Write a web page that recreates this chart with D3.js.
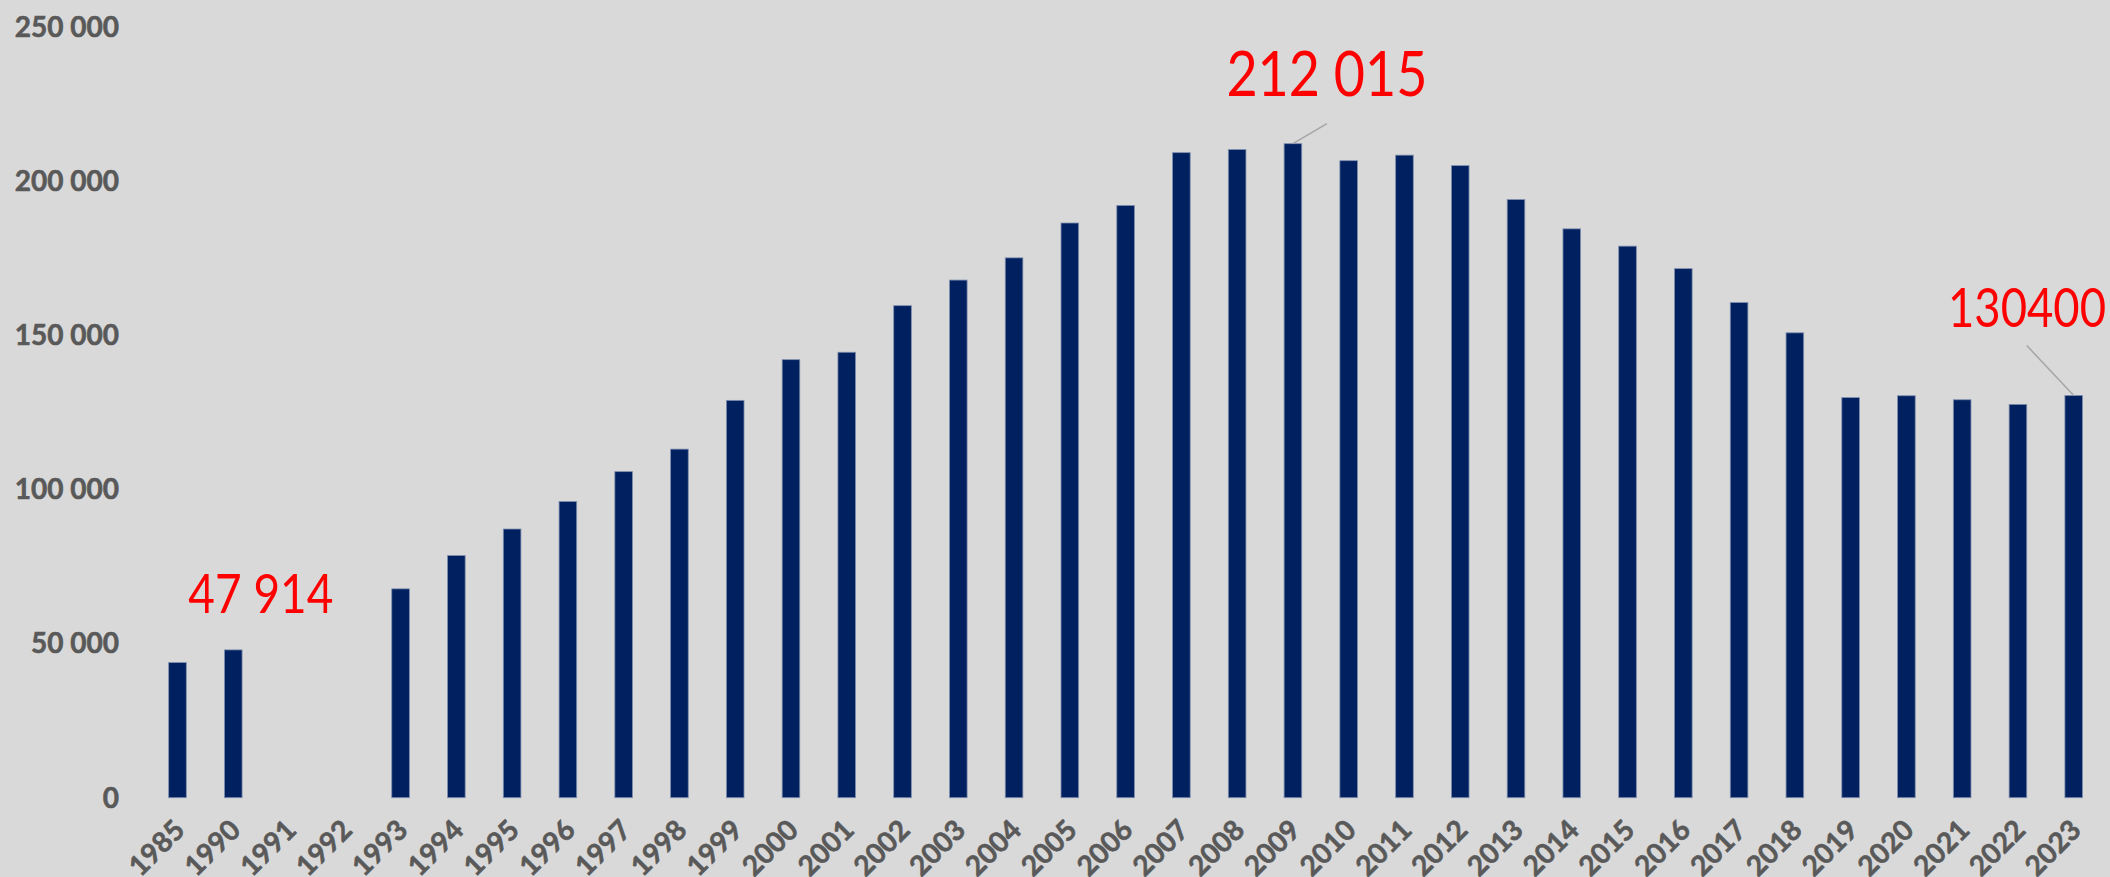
<!DOCTYPE html>
<html>
<head>
<meta charset="utf-8">
<script src="https://cdn.jsdelivr.net/npm/d3@7/dist/d3.min.js"></script>
<style>
  html, body { margin: 0; padding: 0; background: #d9d9d9; }
  svg { display: block; }
</style>
</head>
<body>
<svg id="chart" width="2110" height="877"></svg>
<script>
// ---- data ----
const years = ["1985","1990","1991","1992","1993","1994","1995","1996","1997","1998","1999",
  "2000","2001","2002","2003","2004","2005","2006","2007","2008","2009","2010","2011",
  "2012","2013","2014","2015","2016","2017","2018","2019","2020","2021","2022","2023"];
const values = [43800, 47914, null, null, 67700, 78500, 87100, 96000, 105700, 113000, 128800,
  142000, 144400, 159500, 167800, 175000, 186300, 192000, 209100, 210100, 212015, 206500, 208300,
  204900, 193900, 184400, 178800, 171500, 160500, 150700, 129700, 130300, 129000, 127500, 130400];
const yTicks = [0, 50000, 100000, 150000, 200000, 250000];
const annotations = [
  { year: "1990", text: "47 914" },
  { year: "2009", text: "212 015" },
  { year: "2023", text: "130400" }
];

// ---- layout ----
const W = 2110, H = 877;
const svg = d3.select("#chart");
svg.append("rect").attr("width", W).attr("height", H).attr("fill", "#d9d9d9");

const x = d3.scaleBand().domain(years).range([149.6, 2101.6])
  .paddingInner(0.684).paddingOuter(0.342);
const y = d3.scaleLinear().domain([0, 250000]).range([797.7, 26.5]);

const fmt = v => d3.format(",")(v).replace(/,/g, " ");
const tickFont = "Lato, 'Open Sans', sans-serif";

// y-axis labels
const yAxis = d3.axisLeft(y).tickValues(yTicks).tickSize(0).tickPadding(0).tickFormat(fmt);
const gy = svg.append("g").attr("transform", "translate(119,0)").call(yAxis);
gy.select(".domain").remove();
gy.selectAll("text")
  .attr("font-family", tickFont)
  .attr("font-weight", "bold")
  .attr("font-size", 28)
  .attr("fill", "#595959")
  .attr("stroke", "#595959")
  .attr("stroke-width", 0.6)
  .attr("dy", "0.34em");

// x-axis labels
const xAxis = d3.axisBottom(x).tickSize(0).tickPadding(0);
const gx = svg.append("g").attr("transform", "translate(0,797.7)").call(xAxis);
gx.select(".domain").remove();
gx.selectAll("text")
  .attr("font-family", tickFont)
  .attr("font-weight", "bold")
  .attr("font-size", 28)
  .attr("fill", "#595959")
  .attr("stroke", "#595959")
  .attr("stroke-width", 0.6)
  .attr("text-anchor", "end")
  .attr("dy", 0)
  .attr("y", 0)
  .attr("transform", "translate(9,34) rotate(-45)");

// bars
const data = years.map((yr, i) => ({ year: yr, value: values[i] })).filter(d => d.value != null);
svg.append("g").selectAll("rect").data(data).join("rect")
  .attr("x", d => x(d.year))
  .attr("width", x.bandwidth())
  .attr("y", d => y(d.value))
  .attr("height", d => y(0) - y(d.value))
  .attr("fill", "#002060")
  .attr("stroke", "#7f8fae")
  .attr("stroke-width", 0.8);

// annotations
const valOf = yr => values[years.indexOf(yr)];
const cx = yr => x(yr) + x.bandwidth() / 2;
const ann = svg.append("g");
const annSpec = {
  "1990": { dx: 27.6, dy: -36.6, size: 54, len: 145, line: null },
  "2009": { dx: 34, dy: -48, size: 62, len: 201, line: [34, -20] },
  "2023": { dx: -46.7, dy: -68.3, size: 54, len: 158, line: [-47, -50] }
};
annotations.forEach(a => {
  const s = annSpec[a.year];
  const bx = cx(a.year), by = y(valOf(a.year));
  if (s.line) {
    ann.append("line")
      .attr("x1", bx).attr("y1", by)
      .attr("x2", bx + s.line[0]).attr("y2", by + s.line[1])
      .attr("stroke", "#a6a6a6").attr("stroke-width", 1.5);
  }
  ann.append("text")
    .attr("x", bx + s.dx).attr("y", by + s.dy)
    .attr("text-anchor", "middle")
    .attr("font-family", tickFont)
    .attr("font-size", s.size)
    .attr("fill", "#ff0000")
    .attr("textLength", s.len)
    .attr("lengthAdjust", "spacingAndGlyphs")
    .text(a.text);
});
</script>
</body>
</html>
